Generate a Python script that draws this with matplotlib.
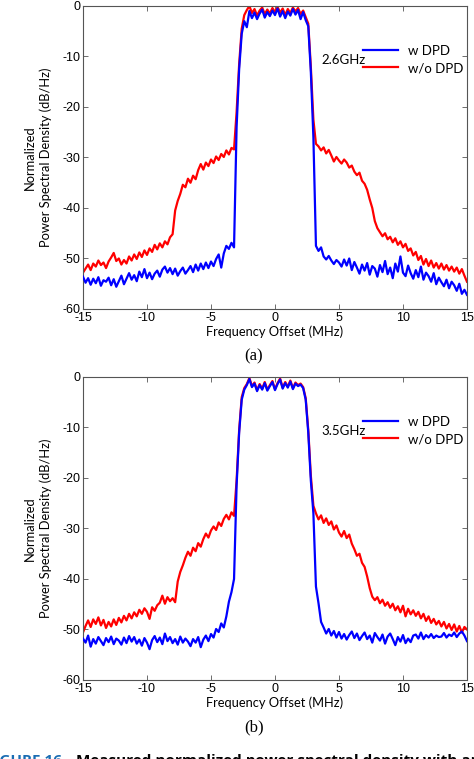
import numpy as np
import matplotlib
matplotlib.use("Agg")
import matplotlib.pyplot as plt

plt.rcParams["axes.unicode_minus"] = False

# frequency grid (MHz), 0.2 MHz step
freq = np.round(np.arange(-15, 15.001, 0.2), 2)

# (a) 2.6 GHz
a_wo_dpd = [
    -52.8, -52.0, -51.2, -52.3, -51.0, -51.6, -50.4, -51.3, -50.8, -51.9,
    -50.6, -49.8, -48.9, -50.5, -50.0, -51.2, -50.3, -51.0, -49.6, -50.4,
    -49.2, -50.1, -48.8, -49.7, -48.4, -49.3, -48.0, -48.7, -47.3, -48.2,
    -47.0, -47.8, -46.6, -47.2, -45.8, -45.2, -40.5, -38.6, -37.2, -35.4,
    -35.9, -34.2, -35.0, -33.6, -34.3, -32.5, -31.3, -32.4, -31.0, -31.7,
    -30.4, -31.1, -29.8, -30.5, -29.3, -29.9, -28.6, -29.4, -28.1, -28.4,
    -21.0, -11.5, -4.5, -1.8, -0.8, 0.0, -1.4, -0.6, -1.9, -0.9,
    -0.3, -1.6, -0.7, -1.5, -0.4, -1.2, -0.2, -1.3, -0.5, -1.8,
    -0.6, -1.4, -0.3, -1.1, -0.4, -1.6, -0.9, -2.2, -3.5, -12.0,
    -22.5, -27.3, -27.8, -28.6, -28.0, -29.2, -28.5, -29.6, -30.8, -29.9,
    -30.6, -31.2, -30.4, -31.0, -32.0, -31.6, -32.8, -33.5, -33.0, -34.6,
    -35.2, -36.4, -38.3, -40.0, -42.6, -44.0, -44.8, -45.6, -45.0, -46.2,
    -45.7, -46.8, -46.0, -47.3, -46.6, -47.8, -47.1, -48.5, -48.0, -49.4,
    -48.7, -50.3, -49.5, -51.2, -50.1, -51.5, -50.4, -51.8, -50.9, -52.0,
    -51.0, -52.2, -51.3, -52.4, -51.6, -52.6, -51.8, -53.0, -52.1, -53.4,
    -54.6,
]
a_w_dpd = [
    -53.6, -54.8, -53.9, -55.2, -54.0, -54.9, -53.7, -55.4, -54.3, -54.6,
    -53.8, -55.3, -54.1, -55.6, -54.5, -53.4, -55.1, -54.0, -52.9, -54.2,
    -53.3, -54.5, -52.6, -53.7, -52.1, -53.9, -52.8, -54.1, -53.0, -52.4,
    -53.6, -52.2, -51.6, -52.8, -51.9, -53.1, -52.0, -53.4, -52.5, -51.8,
    -53.0, -52.3, -51.5, -52.7, -51.2, -52.4, -51.0, -52.1, -50.8, -51.9,
    -50.6, -51.5, -50.1, -49.2, -51.8, -49.0, -47.5, -48.1, -46.9, -47.8,
    -24.0, -12.5, -5.5, -3.0, -4.2, -1.0, -2.4, -1.3, -2.6, -1.5,
    -0.7, -2.3, -1.2, -2.0, -0.9, -1.8, -0.5, -2.1, -1.0, -2.4,
    -1.1, -1.9, -0.6, -1.7, -0.8, -2.6, -1.2, -2.8, -4.0, -13.0,
    -26.0, -47.5, -48.5, -47.8, -49.6, -50.2, -49.5, -50.4, -51.1, -50.3,
    -50.8, -51.6, -50.2, -51.4, -50.0, -52.3, -50.7, -51.8, -53.0, -51.2,
    -52.4, -50.9, -53.2, -51.5, -52.0, -53.6, -51.3, -52.7, -50.5, -53.1,
    -51.8, -53.9, -51.0, -52.6, -49.6, -52.8, -53.5, -51.4, -52.9, -54.0,
    -52.3, -53.7, -51.6, -54.2, -52.8, -53.5, -54.6, -52.9, -55.1, -53.8,
    -54.7, -55.5, -54.2, -55.9, -54.6, -55.3, -56.4, -55.0, -57.0, -56.2,
    -57.2,
]

# (b) 3.5 GHz
b_wo_dpd = [
    -50.6, -49.3, -48.2, -49.5, -48.0, -48.9, -47.6, -49.2, -48.1, -49.7,
    -48.5, -49.4, -48.0, -49.1, -47.7, -48.6, -47.3, -48.2, -46.9, -47.8,
    -46.6, -47.4, -46.1, -46.9, -45.8, -46.5, -47.9, -45.6, -46.3, -45.2,
    -44.7, -43.3, -44.9, -43.6, -44.4, -43.8, -44.6, -40.5, -38.6, -37.3,
    -35.8, -34.6, -35.4, -33.8, -34.5, -32.9, -33.6, -32.1, -31.0, -31.8,
    -30.4, -29.6, -30.3, -28.8, -29.5, -28.1, -27.3, -28.2, -26.8, -27.5,
    -20.5, -10.5, -4.0, -2.2, -1.4, -0.2, -1.8, -1.1, -2.6, -1.4,
    -2.3, -1.0, -2.5, -1.6, -0.8, -2.4, -1.2, -0.3, -2.1, -1.0,
    -1.9, -0.7, -2.2, -1.1, -1.6, -1.3, -2.0, -4.2, -10.5, -19.5,
    -25.5, -27.0, -28.2, -27.4, -28.9, -28.0, -29.3, -28.6, -30.2, -29.4,
    -30.8, -31.6, -30.5, -31.9, -31.2, -33.0, -34.1, -35.4, -35.0, -36.8,
    -37.6, -39.5, -41.8, -43.5, -44.2, -43.6, -44.8, -44.1, -45.3, -44.6,
    -45.7, -44.9, -46.2, -45.4, -46.6, -45.3, -47.4, -45.9, -47.0, -46.2,
    -47.3, -46.5, -47.8, -46.9, -48.3, -47.4, -48.7, -47.9, -49.0, -48.3,
    -49.4, -48.5, -49.8, -48.9, -50.1, -49.0, -50.4, -49.3, -50.6, -49.5,
    -50.0,
]
b_w_dpd = [
    -51.8, -52.6, -51.2, -53.4, -51.9, -52.8, -51.5, -52.3, -53.1, -51.7,
    -52.5, -51.4, -52.9, -51.8, -52.2, -53.0, -51.6, -52.7, -51.3, -52.4,
    -51.5, -52.8, -52.0, -53.2, -51.7, -52.6, -53.9, -52.1, -51.3, -52.5,
    -51.6, -52.9, -50.8, -52.3, -51.5, -52.7, -51.9, -53.0, -51.4, -52.6,
    -51.8, -52.4, -53.3, -51.9, -52.6, -51.5, -53.5, -52.0, -51.2, -52.3,
    -50.9, -51.6, -49.9, -50.5, -48.8, -49.6, -47.4, -44.5, -42.6, -40.0,
    -21.5, -11.0, -4.5, -2.5, -1.6, -0.4, -2.0, -1.3, -2.8, -1.6,
    -2.5, -1.2, -2.7, -1.8, -1.0, -2.6, -1.4, -0.5, -2.3, -1.2,
    -2.1, -0.9, -2.4, -1.3, -1.8, -1.5, -2.2, -4.5, -11.0, -20.5,
    -27.0, -41.5, -44.8, -48.5, -49.6, -50.8, -49.9, -51.2, -50.3, -51.6,
    -50.5, -51.8, -50.9, -52.0, -51.1, -50.4, -51.7, -50.8, -52.1, -51.3,
    -50.6, -51.9, -51.2, -52.6, -50.7, -51.5, -52.2, -51.0, -52.8, -51.4,
    -50.8, -51.9, -53.1, -51.5, -52.4, -51.1, -52.7, -51.8, -52.5, -51.2,
    -51.0, -51.8, -50.6, -51.9, -51.1, -51.6, -50.9, -51.7, -51.2, -51.5,
    -51.4, -50.7, -51.6, -51.0, -51.3, -50.6, -51.5, -50.8, -50.4, -51.2,
    -52.3,
]

bands = ["2.6GHz", "3.5GHz"]
captions = ["(a)", "(b)"]
xticks = [-15, -10, -5, 0, 5, 10, 15]
yticks = [0, -10, -20, -30, -40, -50, -60]

fig = plt.figure(figsize=(4.74, 7.59), dpi=100)
ax_a = fig.add_axes([0.1751, 0.5929, 0.8101, 0.3992])
ax_b = fig.add_axes([0.1751, 0.1041, 0.8101, 0.3992])

label_font = "Lato"
tick_font = "Liberation Sans"

for ax, w, wo, band, cap in [(ax_a, a_w_dpd, a_wo_dpd, bands[0], captions[0]),
                             (ax_b, b_w_dpd, b_wo_dpd, bands[1], captions[1])]:
    ax.plot(freq, w, color="#0000ff", lw=1.6, label="w DPD", zorder=3)
    ax.plot(freq, wo, color="#ff0000", lw=1.6, label="w/o DPD", zorder=2)
    ax.set_xlim(-15, 15)
    ax.set_ylim(-60, 0)
    ax.set_xticks(xticks)
    ax.set_yticks(yticks)
    ax.tick_params(direction="in", top=True, right=True, length=3.5, width=0.6,
                   colors="#555555", labelcolor="black", labelsize=9, pad=2)
    for lab in ax.get_xticklabels() + ax.get_yticklabels():
        lab.set_fontfamily(tick_font)
    for sp in ax.spines.values():
        sp.set_color("#555555")
        sp.set_linewidth(0.8)
    ax.set_xlabel("Frequency Offset (MHz)", fontfamily=label_font, fontsize=9.3, labelpad=1)
    ax.set_ylabel("Normalized\nPower Spectral Density (dB/Hz)", fontfamily=label_font,
                  fontsize=9.3, labelpad=7, linespacing=1.4)
    ax.legend(loc="upper left", bbox_to_anchor=(0.73, 0.872), frameon=False,
              prop={"family": label_font, "size": 9.5}, handlelength=2.65,
              handletextpad=0.7, labelspacing=0.4, borderpad=0, borderaxespad=0)
    ax.text(0.622, 0.822, band, transform=ax.transAxes, ha="left", va="center",
            fontfamily=label_font, fontsize=9.5)
    ax.text(0.445, -0.158, cap, transform=ax.transAxes, ha="center", va="center",
            fontfamily="Liberation Serif", fontsize=12)

# figure caption, cut off by the bottom edge as in the source page
fig.text(-14 / 474, 1 - 754 / 759, "FIGURE 16.", color="#1a6db3", fontweight="bold",
         fontfamily="Open Sans", fontsize=11, va="top", ha="left")
fig.text(76 / 474, 1 - 754 / 759, "Measured normalized power spectral density with and",
         color="black", fontweight="bold", fontfamily="Open Sans", fontsize=11,
         va="top", ha="left")

fig.savefig("out.png", dpi=100)
